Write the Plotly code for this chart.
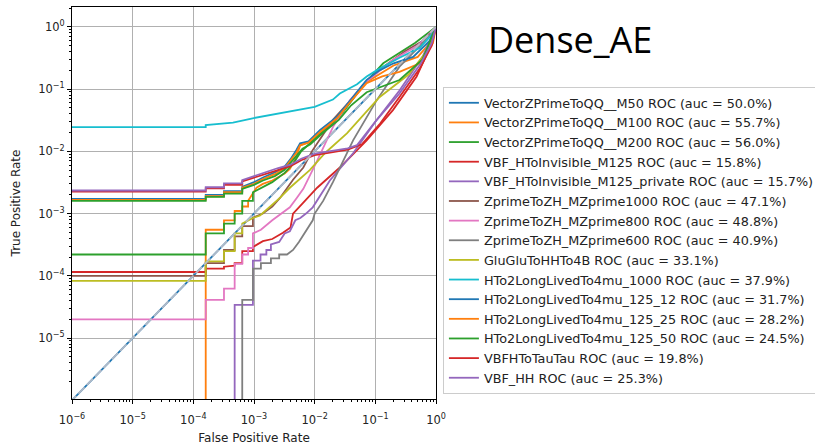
import plotly.graph_objects as go

TITLE = "Dense_AE"
X_LABEL = "False Positive Rate"
Y_LABEL = "True Positive Rate"

names = [
    "VectorZPrimeToQQ__M50", "VectorZPrimeToQQ__M100", "VectorZPrimeToQQ__M200",
    "VBF_HToInvisible_M125", "VBF_HToInvisible_M125_private",
    "ZprimeToZH_MZprime1000", "ZprimeToZH_MZprime800", "ZprimeToZH_MZprime600",
    "GluGluToHHTo4B", "HTo2LongLivedTo4mu_1000", "HTo2LongLivedTo4mu_125_12",
    "HTo2LongLivedTo4mu_125_25", "HTo2LongLivedTo4mu_125_50", "VBFHToTauTau", "VBF_HH",
]
aucs = [50.0, 55.7, 56.0, 15.8, 15.7, 47.1, 48.8, 40.9, 33.1, 37.9, 31.7, 28.2, 24.5, 19.8, 25.3]
colors = ["#1f77b4", "#ff7f0e", "#2ca02c", "#d62728", "#9467bd", "#8c564b", "#e377c2",
          "#7f7f7f", "#bcbd22", "#17becf", "#1f77b4", "#ff7f0e", "#2ca02c", "#d62728", "#9467bd"]

fpr_m50 = [1e-7, 1.0]
tpr_m50 = [1e-7, 1.0]

fpr_m100 = [1.6e-4, 1.6e-4, 3.2e-4, 3.2e-4, 4.8e-4, 4.8e-4, 6.4e-4, 6.4e-4, 8.0e-4, 8.0e-4, 1.1e-3,
            1.4e-3, 2.0e-3, 3.2e-3, 3.9e-3, 5.0e-3, 5.75e-3, 7.9e-3, 1.23e-2, 2.34e-2, 3.8e-2, 7.2e-2,
            0.2, 0.5, 0.85, 1.0]
tpr_m100 = [1e-8, 5.5e-4, 5.5e-4, 7.8e-4, 7.8e-4, 1.1e-3, 1.1e-3, 1.3e-3, 1.3e-3, 1.6e-3, 2.6e-3,
            3.0e-3, 3.4e-3, 4.4e-3, 5.2e-3, 8.0e-3, 1.25e-2, 1.4e-2, 2.0e-2, 3.4e-2, 6.2e-2, 0.13,
            0.24, 0.33, 0.6, 1.0]

fpr_m200 = [1e-7, 1.6e-4, 1.6e-4, 3.2e-4, 3.2e-4, 4.8e-4, 4.8e-4, 6.4e-4, 6.4e-4, 9.6e-4, 9.6e-4,
            1.3e-3, 2.0e-3, 3.2e-3, 4.5e-3, 6.0e-3, 8.0e-3, 1.3e-2, 2.4e-2, 4.0e-2, 7.0e-2, 0.135,
            0.45, 1.0]
tpr_m200 = [2.2e-4, 2.2e-4, 4.8e-4, 4.8e-4, 6.9e-4, 6.9e-4, 1.0e-3, 1.0e-3, 1.6e-3, 1.6e-3, 2.2e-3,
            2.6e-3, 3.2e-3, 4.5e-3, 6.5e-3, 1.0e-2, 1.3e-2, 2.0e-2, 3.3e-2, 6.3e-2, 0.13, 0.26,
            0.55, 1.0]

fpr_hinv = [1e-7, 1.6e-4, 1.6e-4, 3.2e-4, 3.2e-4, 4.8e-4, 4.8e-4, 6.4e-4, 6.4e-4, 9.6e-4, 9.6e-4,
            1.4e-3, 2.0e-3, 3.0e-3, 4.0e-3, 4.4e-3, 6.5e-3, 1.1e-2, 2.6e-2, 7.2e-2, 0.195, 0.48, 0.8, 1.0]
tpr_hinv = [1.15e-4, 1.15e-4, 1.3e-4, 1.3e-4, 1.4e-4, 1.45e-4, 1.6e-4, 1.6e-4, 2.5e-4, 2.5e-4, 2.9e-4,
            3.6e-4, 3.9e-4, 4.9e-4, 6.0e-4, 1.0e-3, 1.5e-3, 2.6e-3, 5.5e-3, 1.5e-2, 4.6e-2, 0.16, 0.48, 1.0]

fpr_hinvp = [4.8e-4, 4.8e-4, 9.6e-4, 9.6e-4, 1.28e-3, 1.28e-3, 1.6e-3, 1.6e-3, 1.9e-3, 1.9e-3,
             2.6e-3, 3.2e-3, 3.9e-3, 4.8e-3, 5.8e-3, 7.2e-3, 9.3e-3, 1.78e-2, 4.3e-2, 0.105, 0.25,
             0.6, 1.0]
tpr_hinvp = [1e-8, 3.4e-5, 3.4e-5, 1.75e-4, 1.75e-4, 2.2e-4, 2.2e-4, 2.6e-4, 2.6e-4, 3.2e-4,
             3.5e-4, 4.8e-4, 5.2e-4, 7.8e-4, 8.5e-4, 1.0e-3, 1.26e-3, 3.4e-3, 9.3e-3, 3.2e-2, 9.5e-2,
             0.33, 1.0]

fpr_zp1000 = [1e-7, 1.6e-4, 1.6e-4, 3.2e-4, 3.2e-4, 4.8e-4, 4.8e-4, 6.4e-4, 6.4e-4, 9.6e-4, 9.6e-4,
              1.4e-3, 2.0e-3, 2.7e-3, 4.4e-3, 6.5e-3, 9.0e-3, 2.0e-2, 3.8e-2, 7.2e-2, 0.12, 0.3, 0.65, 1.0]
tpr_zp1000 = [1.0e-4, 1.0e-4, 1.6e-4, 1.6e-4, 2.6e-4, 2.6e-4, 4.3e-4, 4.3e-4, 6.3e-4, 6.3e-4, 8.6e-4,
              1.0e-3, 1.3e-3, 1.8e-3, 3.5e-3, 5.5e-3, 1.0e-2, 3.2e-2, 6.4e-2, 0.135, 0.21, 0.4, 0.62, 1.0]

fpr_zp800 = [1e-7, 1.6e-4, 1.6e-4, 3.2e-4, 3.2e-4, 4.8e-4, 4.8e-4, 6.4e-4, 6.4e-4, 8.0e-4, 8.0e-4,
             9.6e-4, 9.6e-4, 1.3e-3, 2.0e-3, 2.9e-3, 3.9e-3, 5.1e-3, 6.5e-3, 1.1e-2, 2.0e-2, 3.8e-2,
             7.0e-2, 0.2, 0.5, 1.0]
tpr_zp800 = [2.0e-5, 2.0e-5, 4.1e-5, 4.1e-5, 6.2e-5, 6.2e-5, 1.55e-4, 1.55e-4, 2.2e-4, 2.2e-4, 2.8e-4,
             2.8e-4, 4.8e-4, 5.5e-4, 7.8e-4, 1.0e-3, 1.26e-3, 1.8e-3, 2.5e-3, 7.1e-3, 2.45e-2, 6.6e-2,
             0.13, 0.3, 0.5, 1.0]

fpr_zp600 = [6.4e-4, 6.4e-4, 9.6e-4, 9.6e-4, 1.3e-3, 1.3e-3, 1.9e-3, 1.9e-3, 2.6e-3, 2.6e-3, 3.5e-3,
             4.4e-3, 5.5e-3, 7.0e-3, 9.3e-3, 1.0e-2, 1.38e-2, 2.0e-2, 4.3e-2, 0.105, 0.25, 0.55, 1.0]
tpr_zp600 = [1e-8, 4.1e-5, 4.1e-5, 1.3e-4, 1.3e-4, 1.6e-4, 1.6e-4, 1.9e-4, 1.9e-4, 2.2e-4, 2.2e-4,
             2.6e-4, 3.5e-4, 5.0e-4, 7.8e-4, 1.0e-3, 1.6e-3, 3.2e-3, 1.5e-2, 6.6e-2, 0.23, 0.5, 1.0]

fpr_gg = [1e-7, 1.6e-4, 1.6e-4, 3.2e-4, 3.2e-4, 4.8e-4, 4.8e-4, 6.4e-4, 6.4e-4, 9.6e-4, 1.26e-3,
          2.7e-3, 3.9e-3, 8.3e-3, 1.5e-2, 3.4e-2, 0.117, 0.35, 0.7, 1.0]
tpr_gg = [8.3e-5, 8.3e-5, 1.7e-4, 1.7e-4, 2.5e-4, 2.5e-4, 4.8e-4, 4.8e-4, 6.9e-4, 8.5e-4, 9.3e-4,
          1.8e-3, 2.6e-3, 5.0e-3, 9.5e-3, 1.95e-2, 7.4e-2, 0.17, 0.4, 1.0]

fpr_ll1000 = [1e-7, 1.6e-4, 1.6e-4, 4.5e-4, 9.5e-4, 3.0e-3, 5.8e-3, 1.0e-2, 2.0e-2, 2.6e-2, 5.0e-2,
              7.2e-2, 0.105, 0.25, 0.54, 0.85, 1.0]
tpr_ll1000 = [0.0245, 0.0245, 0.0265, 0.029, 0.034, 0.042, 0.047, 0.052, 0.068, 0.085, 0.12,
              0.16, 0.2, 0.32, 0.46, 0.75, 1.0]

fpr_ll12 = [1e-7, 1.6e-4, 1.6e-4, 3.2e-4, 3.2e-4, 6.4e-4, 6.4e-4, 1.0e-3, 1.41e-3, 2.2e-3, 3.16e-3,
            4.0e-3, 5.0e-3, 5.75e-3, 7.9e-3, 1.23e-2, 2.34e-2, 3.8e-2, 7.2e-2, 0.117, 0.2, 0.42, 0.79, 1.0]
tpr_ll12 = [1.72e-3, 1.72e-3, 2.0e-3, 2.0e-3, 2.3e-3, 2.3e-3, 2.7e-3, 3.2e-3, 3.8e-3, 4.6e-3, 5.6e-3,
            7.5e-3, 1.05e-2, 1.35e-2, 1.45e-2, 2.2e-2, 3.6e-2, 6.6e-2, 0.141, 0.2, 0.26, 0.33, 0.6, 1.0]

fpr_ll25 = [1e-7, 1.6e-4, 1.6e-4, 3.2e-4, 3.2e-4, 6.4e-4, 6.4e-4, 1.0e-3, 1.41e-3, 2.2e-3, 3.16e-3,
            4.0e-3, 5.0e-3, 5.75e-3, 7.9e-3, 1.23e-2, 2.34e-2, 3.8e-2, 7.2e-2, 0.13, 0.25, 0.54, 0.89, 1.0]
tpr_ll25 = [1.66e-3, 1.66e-3, 1.9e-3, 1.9e-3, 2.2e-3, 2.2e-3, 2.6e-3, 3.0e-3, 3.6e-3, 4.3e-3, 5.3e-3,
            7.0e-3, 9.5e-3, 1.25e-2, 1.38e-2, 2.05e-2, 3.4e-2, 6.1e-2, 0.125, 0.16, 0.19, 0.26, 0.55, 1.0]

fpr_ll50 = [1e-7, 1.6e-4, 1.6e-4, 3.2e-4, 3.2e-4, 6.4e-4, 6.4e-4, 1.0e-3, 1.41e-3, 2.2e-3, 3.16e-3,
            4.0e-3, 5.0e-3, 6.3e-3, 8.5e-3, 1.3e-2, 2.5e-2, 4.0e-2, 7.2e-2, 0.25, 0.6, 1.0]
tpr_ll50 = [1.6e-3, 1.6e-3, 1.85e-3, 1.85e-3, 2.1e-3, 2.1e-3, 2.5e-3, 2.9e-3, 3.4e-3, 4.0e-3, 5.0e-3,
            6.5e-3, 8.5e-3, 1.1e-2, 1.3e-2, 1.9e-2, 3.2e-2, 5.5e-2, 8.9e-2, 0.14, 0.30, 1.0]

fpr_tautau = [1e-7, 1.6e-4, 1.6e-4, 3.2e-4, 3.2e-4, 6.4e-4, 6.4e-4, 1.0e-3, 1.6e-3, 2.5e-3, 4.0e-3,
              6.0e-3, 1.0e-2, 2.0e-2, 3.5e-2, 6.0e-2, 0.12, 0.25, 0.55, 0.85, 1.0]
tpr_tautau = [2.25e-3, 2.25e-3, 2.55e-3, 2.55e-3, 2.9e-3, 2.9e-3, 3.3e-3, 3.8e-3, 4.4e-3, 5.1e-3, 5.8e-3,
              7.2e-3, 8.7e-3, 9.7e-3, 1.07e-2, 1.3e-2, 2.8e-2, 7.5e-2, 0.22, 0.5, 1.0]

fpr_vbfhh = [1e-7, 1.6e-4, 1.6e-4, 3.2e-4, 3.2e-4, 6.4e-4, 6.4e-4, 1.0e-3, 1.6e-3, 2.5e-3, 4.0e-3,
             6.0e-3, 1.0e-2, 2.0e-2, 3.5e-2, 5.0e-2, 0.1, 0.25, 0.55, 0.85, 1.0]
tpr_vbfhh = [2.35e-3, 2.35e-3, 2.65e-3, 2.65e-3, 3.05e-3, 3.05e-3, 3.45e-3, 4.0e-3, 4.6e-3, 5.4e-3, 6.1e-3,
             7.6e-3, 9.2e-3, 1.02e-2, 1.12e-2, 1.26e-2, 3.0e-2, 8.5e-2, 0.25, 0.55, 1.0]

fprs = [fpr_m50, fpr_m100, fpr_m200, fpr_hinv, fpr_hinvp, fpr_zp1000, fpr_zp800, fpr_zp600,
        fpr_gg, fpr_ll1000, fpr_ll12, fpr_ll25, fpr_ll50, fpr_tautau, fpr_vbfhh]
tprs = [tpr_m50, tpr_m100, tpr_m200, tpr_hinv, tpr_hinvp, tpr_zp1000, tpr_zp800, tpr_zp600,
        tpr_gg, tpr_ll1000, tpr_ll12, tpr_ll25, tpr_ll50, tpr_tautau, tpr_vbfhh]

diag = [1e-7, 1.0]

x_ticks = [1e-6, 1e-5, 1e-4, 1e-3, 1e-2, 1e-1, 1e0]
x_ticktext = ["10<sup>−6</sup>", "10<sup>−5</sup>", "10<sup>−4</sup>", "10<sup>−3</sup>",
              "10<sup>−2</sup>", "10<sup>−1</sup>", "10<sup>0</sup>"]
y_ticks = [1e-5, 1e-4, 1e-3, 1e-2, 1e-1, 1e0]
y_ticktext = ["10<sup>−5</sup>", "10<sup>−4</sup>", "10<sup>−3</sup>", "10<sup>−2</sup>",
              "10<sup>−1</sup>", "10<sup>0</sup>"]

fig = go.Figure()
for i in range(len(names)):
    fig.add_trace(go.Scatter(
        x=fprs[i], y=tprs[i], mode="lines",
        line=dict(color=colors[i], width=1.8),
        name=f"{names[i]} ROC (auc = {aucs[i]:.1f}%)",
    ))
fig.add_trace(go.Scatter(
    x=diag, y=diag, mode="lines", showlegend=False,
    line=dict(color="rgba(185,190,200,0.95)", width=1.8, dash="9px,3px"),
))

axis_common = dict(
    type="log", showline=True, linecolor="black", linewidth=1, mirror=True,
    ticks="outside", ticklen=4, tickcolor="black",
    showgrid=True, gridcolor="#b0b0b0", gridwidth=1, zeroline=False,
    tickfont=dict(family="DejaVu Sans", size=11.5, color="#222"),
    minor=dict(dtick="D1", ticks="outside", ticklen=2, tickcolor="black", showgrid=False),
)
fig.update_xaxes(range=[-6, 0], tickvals=x_ticks, ticktext=x_ticktext, ticklabelstandoff=6,
                 title=dict(text=X_LABEL, font=dict(family="DejaVu Sans", size=12, color="#222"), standoff=10),
                 **axis_common)
fig.update_yaxes(range=[-5.98, 0.32], tickvals=y_ticks, ticktext=y_ticktext,
                 title=dict(text=Y_LABEL, font=dict(family="DejaVu Sans", size=12, color="#222"), standoff=14),
                 **axis_common)

fig.add_annotation(text=TITLE, xref="paper", yref="paper", x=1.368, y=0.918,
                   xanchor="center", yanchor="middle", showarrow=False,
                   font=dict(family="Open Sans", size=36, color="black"))

fig.update_layout(
    width=815, height=445,
    margin=dict(l=72, r=379, t=7, b=46, autoexpand=False),
    paper_bgcolor="white", plot_bgcolor="white",
    showlegend=True,
    legend=dict(x=1.019, y=0.796, xanchor="left", yanchor="top",
                bgcolor="white", bordercolor="#cccccc", borderwidth=1,
                font=dict(family="DejaVu Sans", size=12.8, color="#222"),
                tracegroupgap=0, itemwidth=30),
)

fig.write_html("out.html")
